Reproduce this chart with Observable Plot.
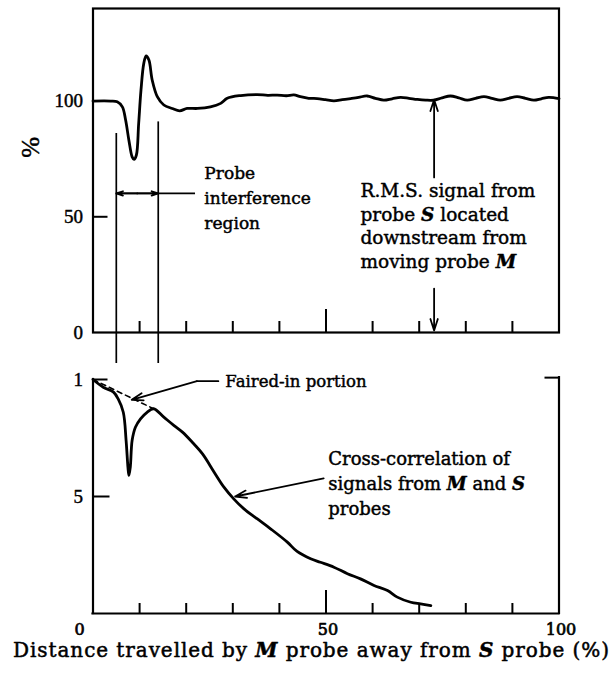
<!DOCTYPE html>
<html><head><meta charset="utf-8">
<script src="https://cdn.jsdelivr.net/npm/d3@7"></script>
<script src="https://cdn.jsdelivr.net/npm/@observablehq/plot@0.6"></script>
<style>
html,body{margin:0;padding:0;background:#fff;}
#chart{width:609px;height:674px;position:relative;overflow:hidden;}
#chart svg{display:block;}
</style></head><body><div id="chart"></div>
<script>
// ---------- data ----------
const rmsX = [0,3.8,5.2,6.3,7.0,7.7,8.4,8.8,9.3,9.8,10.3,10.9,11.4,12.0,12.7,13.8,15.2,17.0,18.6,20.2,22.4,25.2,27.4,28.8,31.7,35.2,37.5,39.5,41.5,43.1,44.5,46.3,48.1,49.9,51.7,53.5,55.3,57.0,58.8,60.6,62.4,64.2,66.0,67.8,69.6,71.4,73.1,74.9,76.7,78.5,80.3,82.1,83.9,85.6,87.4,89.2,91.0,92.8,94.6,96.2,97.8,100];
const rmsY = [100,100,99.7,97.5,91.8,83.1,75.9,74.8,76.6,90.3,104.8,116.3,119.5,117.7,109.1,101.9,98.3,96.8,95.8,96.8,96.8,97.5,99.0,101.2,102.4,102.8,102.5,102.6,102.3,102.7,101.9,101.2,101.1,100.6,100.1,100.6,101.1,101.6,102.2,101.2,100.4,101.0,101.6,101.2,100.7,100.4,100.4,101.4,102.2,101.4,100.4,101.2,101.9,101.2,100.4,101.2,101.9,101.2,100.4,101.0,101.6,101.1];
const corrX = [0,2.2,4.4,5.4,6.5,7.1,7.5,7.7,8.0,8.4,9.1,10.2,11.6,13.0,15.2,17.4,19.2,21.3,23.5,26.0,28.1,30.2,32.4,35.2,38.1,41.7,43.8,46.7,48.8,51.7,54.6,57.4,60.3,63.2,65.3,68.2,70.3,72.5];
const corrY = [1.0,0.967,0.946,0.917,0.86,0.74,0.625,0.59,0.625,0.74,0.796,0.832,0.86,0.875,0.839,0.803,0.775,0.732,0.682,0.604,0.54,0.49,0.447,0.405,0.362,0.305,0.265,0.234,0.219,0.198,0.17,0.148,0.12,0.098,0.07,0.048,0.041,0.034];
const fairedX = [0, 13.0];
const fairedY = [1.0, 0.875];
const interferenceX = [5, 14];
const interferenceTop = [86, 91];
const xMinorTicks = [10,20,30,40,60,70,80,90];
const xMajorTicks = [50];
const topYTicks = [0, 50, 100];
const topYTickLabels = ["0", "50", "100"];
const bottomYTicks = [0.5, 1];
const bottomYTickLabels = ["5", "1"];
const xTickValues = [50, 100];
const xTickLabels = ["50", "100"];
const xZeroLabel = "0";
const yLabelTop = "%";
const xTitle = "Distance travelled by M probe away from S probe (%)";
const interferenceLabel = "Probe\ninterference\nregion";
const rmsLabel = "R.M.S. signal from\nprobe S located\ndownstream from\nmoving probe M";
const fairedLabel = "Faired-in portion";
const corrLabel = "Cross-correlation of\nsignals from M and S\nprobes";

// ---------- layout ----------
const W = 609;
const topH = 370, topMT = 8, topMB = 38, topYMax = 140;
const botH = 304, botMT = 9, botMB = 61;
const ML = 92.5, MR = 50.5;
const pxX = (W - ML - MR) / 100;
const pxTop = (topH - topMT - topMB) / topYMax;
const pxBot = (botH - botMT - botMB);

const rms = rmsX.map((x, i) => ({x, y: rmsY[i]}));
const corr = corrX.map((x, i) => ({x, y: corrY[i]}));
const faired = fairedX.map((x, i) => ({x, y: fairedY[i]}));

const serif = "DejaVu Serif";
const times = "Liberation Serif";
const ink = {stroke: "black", strokeWidth: 0.45, fill: "black"};
const baseStyle = {background: "white", color: "black", fontFamily: times, fontSize: "19px", overflow: "visible"};
const arrowOpts = {headLength: 10, headAngle: 36, strokeWidth: 1.8, stroke: "black"};

const topPlot = Plot.plot({
  width: W, height: topH,
  marginLeft: ML, marginRight: MR, marginTop: topMT, marginBottom: topMB,
  x: {domain: [0, 100], axis: null},
  y: {domain: [0, topYMax], axis: null},
  style: baseStyle,
  marks: [
    Plot.frame({stroke: "black", strokeWidth: 2.2}),
    Plot.ruleX(xMinorTicks, {y1: 0, y2: 11 / pxTop, strokeWidth: 2}),
    Plot.ruleX(xMajorTicks, {y1: 0, y2: 23 / pxTop, strokeWidth: 2}),
    Plot.ruleY([50], {x1: 0, x2: 15 / pxX, strokeWidth: 2}),
    Plot.ruleX(interferenceX, {x: d => d, y1: (d, i) => interferenceTop[i], y2: -31 / pxTop, strokeWidth: 1.7}),
    Plot.line(rms, {x: "x", y: "y", strokeWidth: 2.8, curve: "catmull-rom"}),
    Plot.text(topYTicks, {x: 0, y: d => d, text: (d, i) => topYTickLabels[i], dx: -10, textAnchor: "end", fontFamily: times, fontSize: 19, ...ink}),
    Plot.text([yLabelTop], {x: 0, y: 80, dx: -62, rotate: -90, fontFamily: times, fontSize: 25, ...ink}),
    // probe interference double arrow
    Plot.ruleY([60.1], {x1: interferenceX[0], x2: 22, strokeWidth: 1.7}),
    Plot.arrow([{x1: 9.5, x2: interferenceX[0]}, {x1: 9.5, x2: interferenceX[1]}], {x1: "x1", x2: "x2", y1: 60.1, y2: 60.1, ...arrowOpts, headLength: 8}),
    Plot.text([interferenceLabel], {x: 23.9, y: 44.9, textAnchor: "start", lineAnchor: "bottom", lineHeight: 1.45, fontFamily: serif, fontSize: 17, ...ink}),
    // RMS annotation
    Plot.arrow([{x: 73.2, y1: 67, y2: 100.6}, {x: 73.2, y1: 19, y2: 0.9}], {x1: "x", x2: "x", y1: "y1", y2: "y2", ...arrowOpts}),
    Plot.text([rmsLabel], {x: 57.4, y: 28, textAnchor: "start", lineAnchor: "bottom", lineHeight: 1.27, fontFamily: serif, fontSize: 18.5, ...ink})
  ]
});

const botPlot = Plot.plot({
  width: W, height: botH,
  marginLeft: ML, marginRight: MR, marginTop: botMT, marginBottom: botMB,
  x: {domain: [0, 100], axis: null},
  y: {domain: [0, 1], axis: null},
  style: baseStyle,
  marks: [
    Plot.ruleX([0], {y1: 0, y2: 1, strokeWidth: 2.2, strokeLinecap: "square"}),
    Plot.ruleX([100], {y1: 0, y2: 1.008, strokeWidth: 2.2, strokeLinecap: "square"}),
    Plot.ruleY([0], {x1: 0, x2: 100, strokeWidth: 2.2, strokeLinecap: "square"}),
    Plot.ruleY([1], {x1: 0, x2: 15 / pxX, strokeWidth: 2}),
    Plot.ruleY([1.008], {x1: 100 - 14 / pxX, x2: 100, strokeWidth: 2}),
    Plot.ruleY([0.5], {x1: 0, x2: 17 / pxX, strokeWidth: 2}),
    Plot.ruleX(xMinorTicks, {y1: 0, y2: 10 / pxBot, strokeWidth: 2}),
    Plot.ruleX(xMajorTicks, {y1: 0, y2: 23 / pxBot, strokeWidth: 2}),
    Plot.line(faired, {x: "x", y: "y", strokeWidth: 1.6, strokeDasharray: "5,4"}),
    Plot.line(corr, {x: "x", y: "y", strokeWidth: 2.8, curve: "catmull-rom"}),
    Plot.text(bottomYTicks, {x: 0, y: d => d, text: (d, i) => bottomYTickLabels[i], dx: -10, textAnchor: "end", fontFamily: times, fontSize: 19, ...ink}),
    Plot.text(xTickValues, {x: d => d, y: 0, text: (d, i) => xTickLabels[i], dx: 2, dy: 10, lineAnchor: "top", fontFamily: serif, fontSize: 16, ...ink, strokeWidth: 0.7}),
    Plot.text([xZeroLabel], {x: 0, y: 0, dx: -13.5, dy: 10, lineAnchor: "top", fontFamily: serif, fontSize: 16, ...ink, strokeWidth: 0.7}),
    Plot.text([xTitle], {frameAnchor: "bottom", dx: -15, dy: 43, lineAnchor: "bottom", fontFamily: serif, fontSize: 20, ...ink, strokeWidth: 0.5}),
    // faired-in annotation
    Plot.line([{x: 26.9, y: 0.993}, {x: 22.3, y: 0.993}], {x: "x", y: "y", strokeWidth: 1.8}),
    Plot.arrow([{x1: 22.3, y1: 0.993, x2: 8.3, y2: 0.913}], {x1: "x1", y1: "y1", x2: "x2", y2: "y2", ...arrowOpts}),
    Plot.text([fairedLabel], {x: 28.4, y: 0.967, textAnchor: "start", lineAnchor: "bottom", fontFamily: serif, fontSize: 16.5, ...ink}),
    // cross-correlation annotation
    Plot.arrow([{x1: 49.5, y1: 0.577, x2: 30.5, y2: 0.50}], {x1: "x1", y1: "y1", x2: "x2", y2: "y2", ...arrowOpts}),
    Plot.text([corrLabel], {x: 50.5, y: 0.419, textAnchor: "start", lineAnchor: "bottom", lineHeight: 1.39, fontFamily: serif, fontSize: 18, ...ink})
  ]
});

// italicize the symbols M and S (whole-word tokens)
function italicize(svg) {
  const NS = "http://www.w3.org/2000/svg";
  svg.querySelectorAll("text, tspan").forEach(el => {
    if (el.children.length) return;
    const t = el.textContent;
    if (!/(^|\s)[MS](\s|$)/.test(t)) return;
    el.textContent = "";
    for (const tok of t.split(/(\s+)/)) {
      if (tok === "M" || tok === "S") {
        const ts = document.createElementNS(NS, "tspan");
        ts.setAttribute("font-style", "italic");
        ts.setAttribute("font-weight", "bold");
        ts.textContent = tok;
        el.appendChild(ts);
      } else if (tok) {
        el.appendChild(document.createTextNode(tok));
      }
    }
  });
}
italicize(topPlot);
italicize(botPlot);
// fit the axis title to the width of the original typesetting
botPlot.querySelectorAll("text").forEach(el => {
  if (el.textContent === xTitle) {
    el.setAttribute("textLength", 596);
    el.setAttribute("lengthAdjust", "spacing");
  }
});

const chart = document.getElementById("chart");
chart.appendChild(topPlot);
chart.appendChild(botPlot);
</script>
</body></html>
